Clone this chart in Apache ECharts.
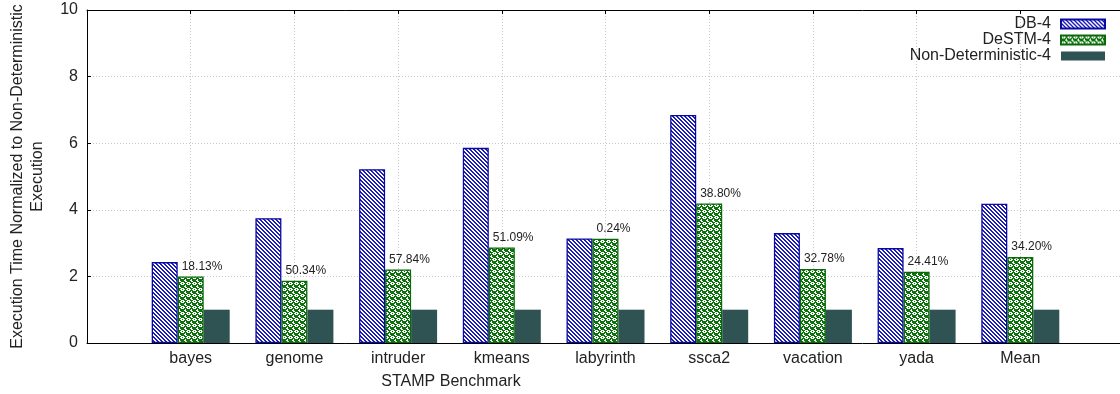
<!DOCTYPE html>
<html>
<head>
<meta charset="utf-8">
<script src="https://cdn.jsdelivr.net/npm/echarts@6/dist/echarts.min.js"></script>
<style>
  html, body { margin: 0; padding: 0; background: #ffffff; }
  #chart { width: 1120px; height: 394px; }
</style>
</head>
<body>
<div id="chart"></div>
<script>
// STAMP benchmarks, execution time normalised to the non-deterministic run
const categories = ['bayes', 'genome', 'intruder', 'kmeans', 'labyrinth', 'ssca2', 'vacation', 'yada', 'Mean'];
const db4 = [2.43, 3.75, 5.22, 5.86, 3.14, 6.85, 3.30, 2.85, 4.18];
const destm4 = [2.00, 1.87, 2.21, 2.87, 3.13, 4.19, 2.22, 2.14, 2.58];
const nonDet4 = [1, 1, 1, 1, 1, 1, 1, 1, 1];
const destmGain = ['18.13%', '50.34%', '57.84%', '51.09%', '0.24%', '38.80%', '32.78%', '24.41%', '34.20%'];
const yTicks = [0, 2, 4, 6, 8, 10];

const TEXT = '#222222';
const FONT = '"Liberation Sans", Arial, Helvetica, sans-serif';

// diagonal "\" hatch in blue on white
function hatchPattern() {
  const c = document.createElement('canvas');
  c.width = 4; c.height = 4;
  const ctx = c.getContext('2d');
  ctx.fillStyle = '#ffffff';
  ctx.fillRect(0, 0, 4, 4);
  ctx.fillStyle = '#1c1cb8';
  for (let y = 0; y < 4; y++) {
    for (let x = 0; x < 4; x++) {
      const d = ((x - y) % 4 + 4) % 4;
      if (d === 0 || d === 1) ctx.fillRect(x, y, 1, 1);
    }
  }
  return c;
}

// green lattice with small white rings, each holding a green dot
function ringPattern() {
  const G = '#0c720c';
  const W = '#ffffff';
  // 6x6 tile, one entry per pixel
  const mask = [
    'GWWWGG',
    'WWGWWG',
    'GWWWGG',
    'GGGGGW',
    'GGGGWW',
    'WGGGGW'
  ];
  const c = document.createElement('canvas');
  c.width = 6; c.height = 6;
  const ctx = c.getContext('2d');
  for (let y = 0; y < 6; y++) {
    for (let x = 0; x < 6; x++) {
      ctx.fillStyle = mask[y][x] === 'G' ? G : W;
      ctx.fillRect(x, y, 1, 1);
    }
  }
  return c;
}

const chart = echarts.init(document.getElementById('chart'), null, { renderer: 'canvas' });

function toPoints(arr) {
  return arr.map(function (v, i) { return [i + 1, v]; });
}

const gridDash = { color: '#c8c8c8', width: 1, type: [1, 2] };

chart.setOption({
  animation: false,
  backgroundColor: '#ffffff',
  textStyle: { fontFamily: FONT, color: TEXT },
  grid: { left: 87, top: 10, width: 1037, height: 333, containLabel: false, outerBoundsMode: 'none' },
  legend: {
    orient: 'vertical',
    right: 9,
    top: 11,
    align: 'right',
    icon: 'rect',
    itemWidth: 44,
    itemHeight: 9,
    itemGap: 0,
    textStyle: { fontFamily: FONT, fontSize: 16, color: TEXT, lineHeight: 16, padding: [0, 5, 0, 0] },
    data: ['DB-4', 'DeSTM-4', 'Non-Deterministic-4']
  },
  xAxis: [
    {
      type: 'value',
      min: 0,
      max: 10,
      interval: 1,
      position: 'bottom',
      axisLine: { show: true, lineStyle: { color: '#000000', width: 1 } },
      axisTick: { show: true, inside: true, length: 4, lineStyle: { color: '#000000' } },
      axisLabel: {
        margin: 8,
        fontFamily: FONT,
        fontSize: 16,
        color: TEXT,
        showMinLabel: false,
        showMaxLabel: false,
        formatter: function (v) { return categories[v - 1] || ''; }
      },
      splitLine: { show: true, lineStyle: gridDash }
    },
    {
      type: 'value',
      min: 0,
      max: 10,
      interval: 1,
      position: 'top',
      axisLine: { show: true, lineStyle: { color: '#000000', width: 1 } },
      axisTick: { show: true, inside: true, length: 4, lineStyle: { color: '#000000' } },
      axisLabel: { show: false },
      splitLine: { show: false }
    }
  ],
  yAxis: {
    type: 'value',
    min: yTicks[0],
    max: yTicks[yTicks.length - 1],
    interval: 2,
    name: 'Execution Time Normalized to Non-Deterministic\nExecution',
    nameLocation: 'middle',
    nameRotate: 90,
    nameGap: 39,
    nameTextStyle: { fontFamily: FONT, fontSize: 16, color: TEXT, lineHeight: 20, align: 'center' },
    axisLine: { show: true, lineStyle: { color: '#000000', width: 1 } },
    axisTick: { show: true, inside: true, length: 4, lineStyle: { color: '#000000' } },
    axisLabel: { margin: 9, fontFamily: FONT, fontSize: 16, color: TEXT },
    splitLine: { show: true, lineStyle: gridDash }
  },
  graphic: [
    {
      type: 'text',
      x: 451,
      y: 374,
      style: {
        text: 'STAMP Benchmark',
        font: '16px ' + FONT,
        fill: TEXT,
        textAlign: 'center'
      }
    }
  ],
  series: [
    {
      name: 'DB-4',
      type: 'bar',
      barWidth: 26,
      barGap: '0%',
      data: toPoints(db4),
      itemStyle: {
        color: { image: hatchPattern(), repeat: 'repeat' },
        borderColor: '#0a0aa0',
        borderWidth: 1.3
      }
    },
    {
      name: 'DeSTM-4',
      type: 'bar',
      barWidth: 26,
      barGap: '0%',
      data: toPoints(destm4),
      itemStyle: {
        color: { image: ringPattern(), repeat: 'repeat' },
        borderColor: '#0a6a0a',
        borderWidth: 1.3
      },
      label: {
        show: true,
        position: 'top',
        align: 'left',
        distance: 4,
        offset: [-9, 0],
        fontFamily: FONT,
        fontSize: 12,
        color: TEXT,
        formatter: function (p) { return destmGain[p.dataIndex]; }
      }
    },
    {
      name: 'Non-Deterministic-4',
      type: 'bar',
      barWidth: 26,
      barGap: '0%',
      data: toPoints(nonDet4),
      itemStyle: { color: '#2f5353' }
    }
  ]
});
</script>
</body>
</html>
